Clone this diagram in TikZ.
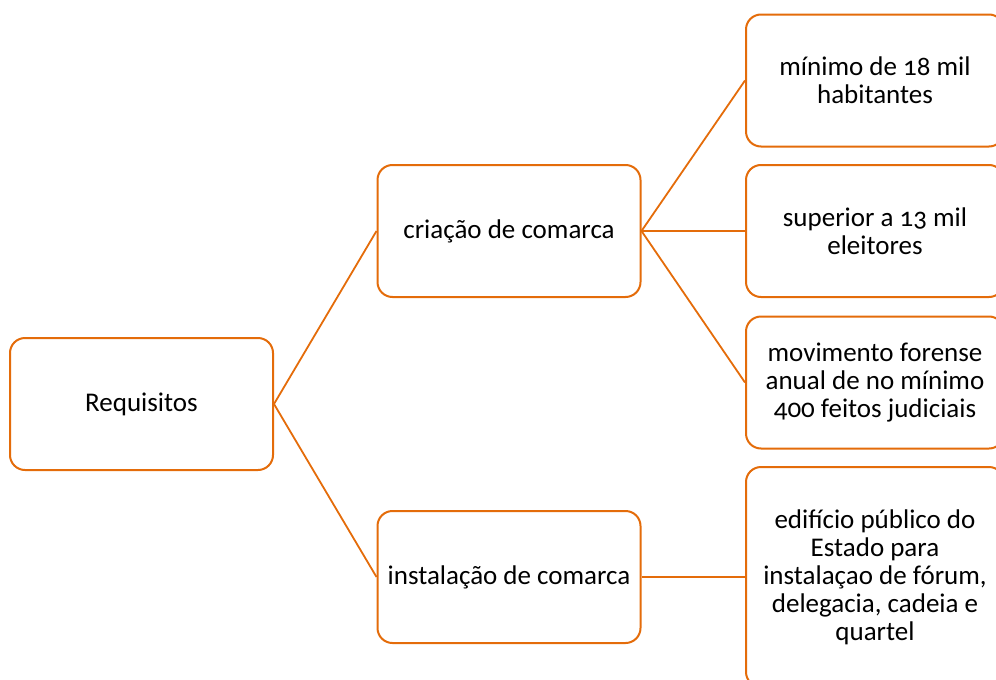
\documentclass[tikz,border=0pt]{standalone}
\usepackage{fontspec}
\setmainfont{Carlito}[Numbers=OldStyle]
\definecolor{laranja}{RGB}{228,108,10}
\tikzset{
  caixa/.style={draw=laranja, line width=1pt, rounded corners=7.5pt, fill=white,
    minimum width=131.5pt, minimum height=66pt, inner sep=0pt, align=center},
  ligacao/.style={draw=laranja, line width=0.9pt}
}
\begin{document}
\begin{tikzpicture}[x=0.5pt, y=-0.5pt, font=\fontsize{13.5}{14}\selectfont]
		\useasboundingbox (0,0) rectangle (996,680);
		\node[caixa] (req) at (141.5, 404) {Requisitos};
		\node[caixa] (criacao) at (509, 231) {criação de comarca};
		\node[caixa] (instal) at (509, 577) {instalação de comarca};
		\node[caixa, minimum width=129pt] (hab) at (875, 80.5) {mínimo de 18 mil\\habitantes};
		\node[caixa, minimum width=129pt] (eleit) at (875, 231) {superior a 13 mil\\eleitores};
		\node[caixa, minimum width=129pt] (mov) at (875, 382.5) {movimento forense\\anual de no mínimo\\400 feitos judiciais};
		\node[caixa, minimum width=129pt, minimum height=110pt] (edif) at (875, 577) {edifício público do\\Estado para\\instalaçao de fórum,\\delegacia, cadeia e\\quartel};

		\path (req.east) edge[ligacao] (criacao.west)
		(req.east) edge[ligacao] (instal.west)
		(criacao.east) edge[ligacao] (hab.west)
		(criacao.east) edge[ligacao] (eleit.west)
		(criacao.east) edge[ligacao] (mov.west)
		(instal.east) edge[ligacao] (edif.west);
	\end{tikzpicture}
\end{document}
